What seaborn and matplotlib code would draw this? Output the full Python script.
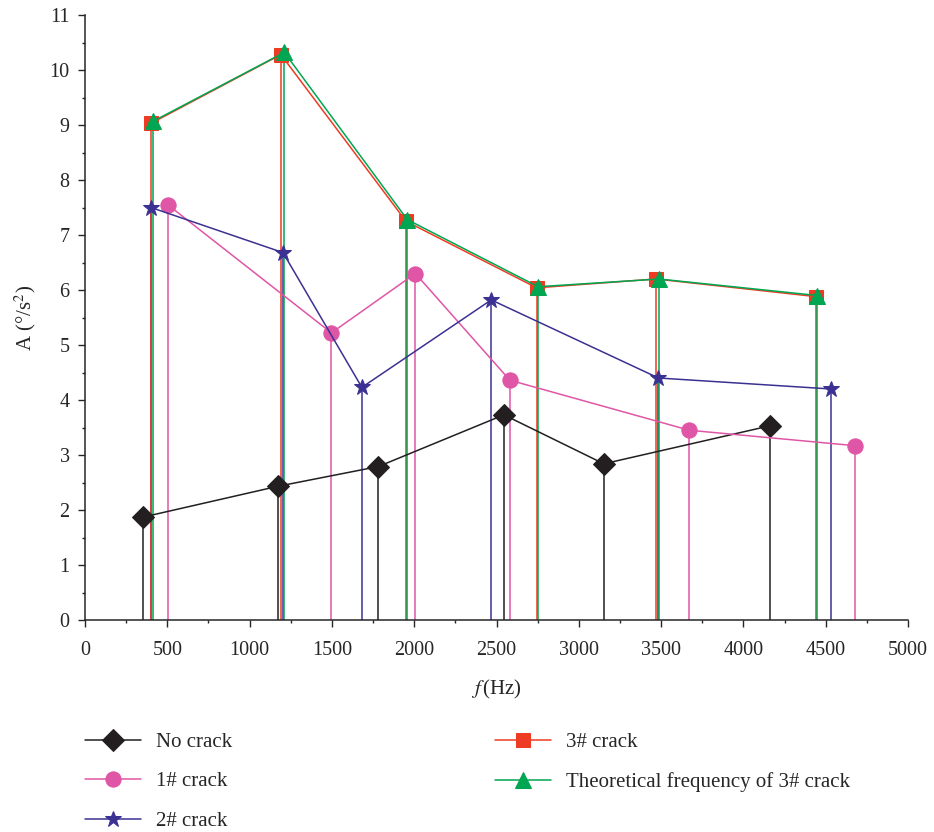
import matplotlib
matplotlib.use("Agg")
import matplotlib.pyplot as plt
from matplotlib.ticker import MultipleLocator
import seaborn as sns

# frequencies (Hz) and amplitudes
f_none = [351, 1170, 1782, 2545, 3152, 4160]
a_none = [1.87, 2.43, 2.79, 3.73, 2.84, 3.53]

f_c1 = [503, 1497, 2007, 2581, 3672, 4676]
a_c1 = [7.55, 5.22, 6.30, 4.36, 3.45, 3.17]

f_c2 = [401, 1203, 1682, 2468, 3484, 4533]
a_c2 = [7.50, 6.68, 4.23, 5.82, 4.40, 4.20]

f_c3 = [401, 1190, 1950, 2744, 3468, 4440]
a_c3 = [9.03, 10.28, 7.25, 6.04, 6.20, 5.88]

f_th = [415, 1211, 1958, 2753, 3487, 4448]
a_th = [9.07, 10.32, 7.28, 6.06, 6.20, 5.90]

sns.set_style("ticks")
plt.rcParams['font.family'] = ['Liberation Serif', 'DejaVu Serif']
plt.rcParams['mathtext.fontset'] = 'stix'

fig = plt.figure(figsize=(9.34, 8.32), dpi=100)
ax = fig.add_axes([85 / 934, 1 - 620 / 832, 823 / 934, 605 / 832])

series = [
    (f_none, a_none, "No crack", "#231f20", "D", 11),
    (f_c1, a_c1, "1# crack", "#e056a6", "o", 11),
    (f_c2, a_c2, "2# crack", "#3b3192", "*", 12),
    (f_c3, a_c3, "3# crack", "#ee3b24", "s", 10),
    (f_th, a_th, "Theoretical frequency of 3# crack", "#00a651", "^", 11),
]

for f, a, name, col, mk, ms in series:
    ax.vlines(f, 0, a, color=col, lw=1.1, zorder=2)
    sns.lineplot(x=f, y=a, ax=ax, color=col, marker=mk, markersize=ms,
                 markeredgecolor=col, lw=1.1, sort=False, label=name,
                 zorder=3)

ax.set_xlim(0, 5000)
ax.set_ylim(0, 11)
ax.xaxis.set_major_locator(MultipleLocator(500))
ax.xaxis.set_minor_locator(MultipleLocator(250))
ax.yaxis.set_major_locator(MultipleLocator(1))
ax.yaxis.set_minor_locator(MultipleLocator(0.5))
ax.tick_params(which='major', direction='out', length=5, width=1, labelsize=14.5)
ax.tick_params(which='minor', direction='out', length=2.5, width=1)
ax.tick_params(axis='x', which='major', pad=10)
ax.tick_params(axis='y', which='major', pad=6)
for s in ['left', 'bottom']:
    ax.spines[s].set_linewidth(1.1)
sns.despine(ax=ax)

ax.set_xlabel(r"$f\,$(Hz)", fontsize=15, labelpad=13)
ax.set_ylabel(r"A (°/s$^2$)", fontsize=15, labelpad=8)

h, l = ax.get_legend_handles_labels()
ax.legend(h, l, loc='upper left', bbox_to_anchor=(0.0, -0.186), ncol=2,
          frameon=False, fontsize=15, handlelength=2.7, handletextpad=0.72,
          columnspacing=12.6, labelspacing=0.95, borderpad=0, borderaxespad=0)

fig.savefig("out.png", dpi=100)
